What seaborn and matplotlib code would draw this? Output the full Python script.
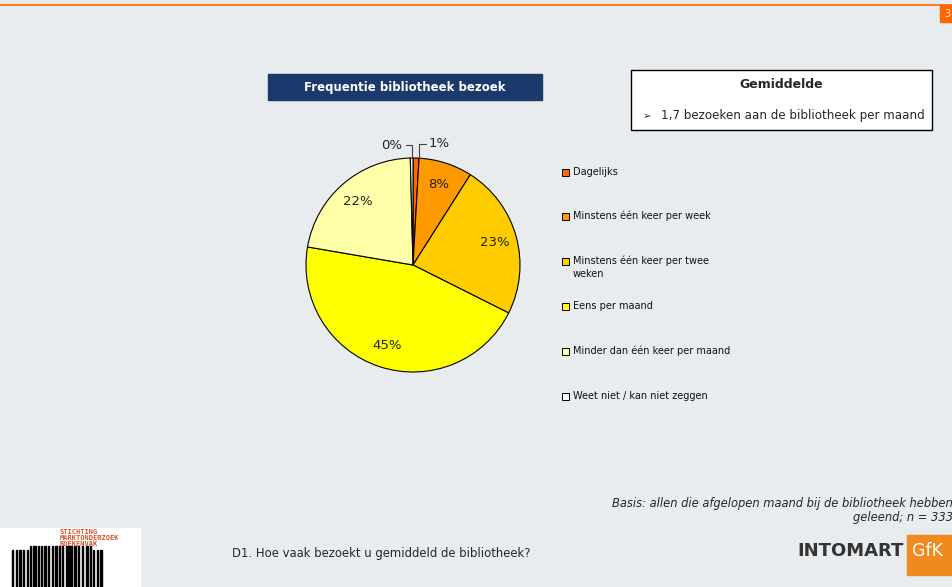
import matplotlib
matplotlib.use("Agg")
import matplotlib.pyplot as plt
import seaborn as sns
import numpy as np
from matplotlib.patches import Rectangle

sns.set_theme(style="white")
plt.rcParams['font.family'] = ['DejaVu Sans']

categories = ["Dagelijks", "Minstens één keer per week", "Minstens één keer per twee\nweken",
              "Eens per maand", "Minder dan één keer per maand", "Weet niet / kan niet zeggen"]
values = [0.9, 8.1, 23.4, 45.3, 21.9, 0.4]
labels_pct = ["1%", "8%", "23%", "45%", "22%", "0%"]
colors = ["#FF6600", "#FF9900", "#FFCC00", "#FFFF00", "#FFFFAA", "#FFFFFF"]

W, H = 953, 587
BG = "#E8ECEE"
fig = plt.figure(figsize=(W / 100, H / 100), dpi=100, facecolor=BG)

def fx(x): return x / W
def fy(y): return 1 - y / H

# top orange line and page number box
fig.add_artist(plt.Line2D([0, 1], [fy(5), fy(5)], color="#FF6600", lw=1.2))
fig.add_artist(Rectangle((fx(940), fy(22)), fx(13), 17 / H, color="#FF6600", transform=fig.transFigure))
fig.text(fx(944), fy(14), "3", color="white", fontsize=7, ha="left", va="center")

# pie
cx, cy, r = 413, 265, 107
ax = fig.add_axes([fx(cx - r), fy(cy + r), 2 * r / W, 2 * r / H])
wedges, _ = ax.pie(values, colors=colors, startangle=90, counterclock=False,
                   wedgeprops=dict(edgecolor="black", linewidth=0.8), radius=1.0)
ax.set_xlim(-1, 1); ax.set_ylim(-1, 1)
ax.set_aspect("equal")
ax.axis("off")

cum = np.cumsum([0] + values)
tot = sum(values)
for i, lab in enumerate(labels_pct):
    mid = (cum[i] + cum[i + 1]) / 2 / tot
    ang = np.deg2rad(90 - mid * 360)
    if values[i] > 3:
        ax.text(0.79 * np.cos(ang), 0.79 * np.sin(ang), lab, ha="center", va="center",
                fontsize=9.5, color="#222222")

# outside labels with leader lines (1% and 0%)
ax.plot([0.06, 0.06, 0.12], [1.0, 1.13, 1.13], color="#444444", lw=0.8, clip_on=False)
ax.text(0.15, 1.14, labels_pct[0], ha="left", va="center", fontsize=9.5, color="#222222")
ax.plot([-0.01, -0.01, -0.07], [1.0, 1.12, 1.12], color="#444444", lw=0.8, clip_on=False)
ax.text(-0.10, 1.12, labels_pct[5], ha="right", va="center", fontsize=9.5, color="#222222")

# chart title box
fig.add_artist(Rectangle((fx(268), fy(100)), fx(542) - fx(268), 26 / H, color="#1B3A6B",
                         transform=fig.transFigure))
fig.text(fx(405), fy(87), "Frequentie bibliotheek bezoek", color="white", fontsize=8.5,
         fontweight="bold", ha="center", va="center")

# Gemiddelde box
fig.add_artist(Rectangle((fx(631), fy(130)), fx(932) - fx(631), 60 / H, facecolor="white",
                         edgecolor="black", lw=1, transform=fig.transFigure))
fig.text(fx(781), fy(85), "Gemiddelde", fontsize=9, fontweight="bold", ha="center", va="center")
fig.text(fx(643), fy(116), "➢", fontsize=7.5, ha="left", va="center")
fig.text(fx(661), fy(116), "1,7 bezoeken aan de bibliotheek per maand", fontsize=8.6,
         ha="left", va="center")

# legend
ys = [172, 216, 261, 306, 351, 396]
for cat, col, y in zip(categories, colors, ys):
    fig.add_artist(Rectangle((fx(562), fy(y + 4)), 7 / W, 7 / H, facecolor=col,
                             edgecolor="black", lw=0.7, transform=fig.transFigure))
    lines = cat.split("\n")
    for k, line in enumerate(lines):
        fig.text(fx(573), fy(y + 13 * k), line, fontsize=7, ha="left", va="center",
                 color="#111111")

# footnote
fig.text(fx(953), fy(503), "Basis: allen die afgelopen maand bij de bibliotheek hebben",
         fontsize=8.3, style="italic", ha="right", va="center")
fig.text(fx(953), fy(518), "geleend; n = 333", fontsize=8.3, style="italic", ha="right", va="center")

# question
fig.text(fx(232), fy(554), "D1. Hoe vaak bezoekt u gemiddeld de bibliotheek?", fontsize=8.4,
         ha="left", va="center")

# bottom-left logo
fig.add_artist(Rectangle((0, 0), fx(140), 59 / H, color="white", transform=fig.transFigure))
fig.text(fx(60), fy(529), "STICHTING\nMARKTONDERZOEK\nBOEKENVAK", fontsize=5, color="#D9532B",
         fontweight="bold", ha="left", va="top", linespacing=1.05, family="DejaVu Sans Mono")
bars = [(12, 1), (16, 1), (19, 2), (23, 1), (27, 1), (30, 1), (33, 3), (38, 1), (41, 1),
        (44, 2), (48, 1), (52, 1), (55, 2), (59, 1), (62, 1), (66, 4), (71, 1), (74, 2),
        (78, 1), (82, 1), (86, 2), (90, 1), (93, 1), (97, 1), (100, 2)]
for x, w in bars:
    top = 546 if 30 <= x <= 90 else 550
    fig.add_artist(Rectangle((fx(x), 0), w / W, fy(top), color="black", transform=fig.transFigure))

# bottom-right logo
fig.text(fx(904), fy(551), "INTOMART", fontsize=13, fontweight="bold", color="#333333",
         ha="right", va="center")
fig.add_artist(Rectangle((fx(907), fy(575)), fx(953) - fx(907), 40 / H, color="#F08A1E",
                         transform=fig.transFigure))
fig.text(fx(912), fy(551), "GfK", fontsize=12.5, color="white", ha="left", va="center")

fig.savefig("out.png", dpi=100, facecolor=BG)
